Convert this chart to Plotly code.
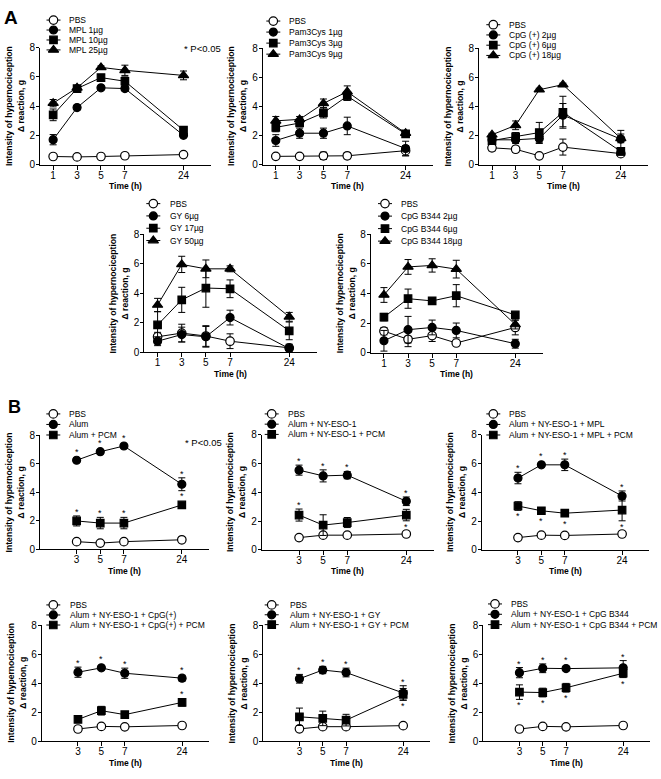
import plotly.graph_objects as go

W, H = 661, 779
FONT = "Liberation Sans, Arial, sans-serif"

TIME_A = [1, 3, 5, 7, 24]
TIME_B = [3, 5, 7, 24]
# segmented time axis of the original: 1-7 h evenly spaced, 24 h placed further out
TIME_POS = {1: 0.0, 3: 1.0, 5: 2.0, 7: 3.0, 24: 5.45}

# ---------------- Panel A ----------------
A1_LABELS = ["PBS", "MPL 1µg", "MPL 10µg", "MPL 25µg"]
A1_MEAN = [[0.55, 0.52, 0.55, 0.60, 0.68],
           [1.70, 3.90, 5.25, 5.20, 2.00],
           [3.40, 5.20, 5.95, 5.70, 2.35],
           [4.20, 5.25, 6.65, 6.45, 6.10]]
A1_ERR = [[0.05, 0.05, 0.05, 0.05, 0.05],
          [0.35, 0.15, 0.10, 0.12, 0.15],
          [0.40, 0.15, 0.20, 0.30, 0.15],
          [0.25, 0.10, 0.10, 0.35, 0.30]]

A2_LABELS = ["PBS", "Pam3Cys 1µg", "Pam3Cys 3µg", "Pam3Cys 9µg"]
A2_MEAN = [[0.56, 0.56, 0.60, 0.60, 0.95],
           [1.65, 2.15, 2.15, 2.65, 1.10],
           [2.55, 2.85, 3.55, 4.70, 2.10],
           [3.00, 3.10, 4.20, 5.00, 2.15]]
A2_ERR = [[0.05, 0.05, 0.25, 0.20, 0.35],
          [0.40, 0.35, 0.35, 0.60, 0.50],
          [0.30, 0.25, 0.35, 0.30, 0.15],
          [0.30, 0.20, 0.30, 0.40, 0.10]]

A3_LABELS = ["PBS", "CpG (+) 2µg", "CpG (+) 6µg", "CpG (+) 18µg"]
A3_MEAN = [[1.15, 1.05, 0.60, 1.20, 0.75],
           [1.70, 1.70, 1.80, 3.40, 1.75],
           [1.65, 1.90, 2.20, 3.60, 0.90],
           [2.05, 2.70, 5.15, 5.50, 1.80]]
A3_ERR = [[0.20, 0.20, 0.05, 0.55, 0.10],
          [0.15, 0.25, 0.35, 0.80, 0.60],
          [0.20, 0.30, 0.70, 1.10, 0.25],
          [0.10, 0.30, 0.10, 0.10, 0.30]]

A4_LABELS = ["PBS", "GY 6µg", "GY 17µg", "GY 50µg"]
A4_MEAN = [[1.05, 1.30, 1.10, 0.75, 0.30],
           [0.75, 1.20, 1.05, 2.35, 0.25],
           [1.85, 3.55, 4.35, 4.30, 1.45],
           [3.20, 5.95, 5.65, 5.65, 2.40]]
A4_ERR = [[0.30, 0.60, 0.70, 0.50, 0.20],
          [0.30, 0.50, 0.70, 0.50, 0.30],
          [0.90, 0.85, 1.30, 0.60, 0.60],
          [0.45, 0.55, 0.60, 0.20, 0.30]]

A5_LABELS = ["PBS", "CpG B344 2µg", "CpG B344 6µg", "CpG B344 18µg"]
A5_MEAN = [[1.45, 0.90, 1.15, 0.65, 1.70],
           [0.80, 1.55, 1.70, 1.50, 0.60],
           [2.40, 3.65, 3.50, 3.85, 2.55],
           [3.90, 5.80, 5.90, 5.65, 1.90]]
A5_ERR = [[0.25, 0.50, 0.40, 0.10, 0.50],
          [0.70, 0.90, 0.50, 0.50, 0.30],
          [0.25, 0.65, 0.20, 0.75, 0.10],
          [0.50, 0.50, 0.45, 0.60, 0.30]]

# ---------------- Panel B ----------------
B1_LABELS = ["PBS", "Alum", "Alum + PCM"]
B1_MEAN = [[0.55, 0.45, 0.55, 0.68],
           [6.25, 6.85, 7.25, 4.57],
           [2.00, 1.85, 1.85, 3.12]]
B1_ERR = [[0.05, 0.05, 0.05, 0.05],
          [0.15, 0.12, 0.10, 0.45],
          [0.35, 0.40, 0.40, 0.12]]
B1_STARS = [["", "", "", ""], ["+", "+", "+", "+"], ["+", "+", "+", "+"]]

B2_LABELS = ["PBS", "Alum + NY-ESO-1", "Alum + NY-ESO-1 + PCM"]
B2_MEAN = [[0.85, 1.02, 1.02, 1.10],
           [5.55, 5.15, 5.20, 3.38],
           [2.42, 1.72, 1.90, 2.42]]
B2_ERR = [[0.05, 0.05, 0.05, 0.05],
          [0.35, 0.42, 0.25, 0.30],
          [0.42, 0.72, 0.35, 0.40]]
B2_STARS = [["", "", "", ""], ["+", "+", "+", "+"], ["+", "", "", "-"]]

B3_LABELS = ["PBS", "Alum + NY-ESO-1 + MPL", "Alum + NY-ESO-1 + MPL + PCM"]
B3_MEAN = [[0.85, 1.02, 1.00, 1.10],
           [5.00, 5.92, 5.92, 3.75],
           [3.05, 2.72, 2.55, 2.77]]
B3_ERR = [[0.05, 0.05, 0.05, 0.05],
          [0.40, 0.10, 0.40, 0.35],
          [0.30, 0.20, 0.10, 0.75]]
B3_STARS = [["", "", "", ""], ["+", "+", "+", "+"], ["-", "-", "-", "-"]]

B4_LABELS = ["PBS", "Alum + NY-ESO-1 + CpG(+)", "Alum + NY-ESO-1 + CpG(+) + PCM"]
B4_MEAN = [[0.84, 1.02, 0.99, 1.08],
           [4.75, 5.05, 4.68, 4.34],
           [1.50, 2.10, 1.83, 2.67]]
B4_ERR = [[0.05, 0.05, 0.05, 0.05],
          [0.35, 0.15, 0.35, 0.20],
          [0.10, 0.30, 0.10, 0.25]]
B4_STARS = [["", "", "", ""], ["+", "+", "+", "+"], ["", "", "", "+"]]

B5_LABELS = ["PBS", "Alum + NY-ESO-1 + GY", "Alum + NY-ESO-1 + GY + PCM"]
B5_MEAN = [[0.85, 1.00, 1.00, 1.07],
           [4.30, 4.90, 4.73, 3.32],
           [1.68, 1.57, 1.45, 3.23]]
B5_ERR = [[0.05, 0.05, 0.05, 0.05],
          [0.30, 0.25, 0.30, 0.50],
          [0.60, 0.50, 0.40, 0.40]]
B5_STARS = [["", "", "", ""], ["+", "+", "+", "+"], ["", "", "", "-"]]

B6_LABELS = ["PBS", "Alum + NY-ESO-1 + CpG B344", "Alum + NY-ESO-1 + CpG B344 + PCM"]
B6_MEAN = [[0.84, 1.02, 0.99, 1.08],
           [4.72, 5.02, 5.00, 5.05],
           [3.38, 3.35, 3.68, 4.68]]
B6_ERR = [[0.05, 0.05, 0.05, 0.05],
          [0.35, 0.30, 0.10, 0.50],
          [0.50, 0.30, 0.30, 0.30]]
B6_STARS = [["", "", "", ""], ["+", "+", "+", "+"], ["-", "-", "-", "-"]]

Y_TICKS = [0, 2, 4, 6, 8]
Y_TITLE_1 = "Intensity of hypernociception"
Y_TITLE_2 = "Δ reaction, g"
X_TITLE = "Time (h)"

# marker style per series position (PBS open circle, then circle, square, triangle)
STYLES = [dict(symbol="circle", color="white", size=8.5),
          dict(symbol="circle", color="black", size=8),
          dict(symbol="square", color="black", size=7.5),
          dict(symbol="triangle-up", color="black", size=9)]

# layout boxes (px): left, right, top(y=8), bottom(y=0); legend: key x, text x, first row y, row step
PANELS = [
    dict(t=TIME_A, lab=A1_LABELS, m=A1_MEAN, e=A1_ERR, s=None, box=(40, 211, 42.3, 161), leg=(53.5, 66.7, 14.3, 10.1)),
    dict(t=TIME_A, lab=A2_LABELS, m=A2_MEAN, e=A2_ERR, s=None, box=(262.7, 433, 42.7, 161), leg=(273.3, 286.7, 15.3, 11.2)),
    dict(t=TIME_A, lab=A3_LABELS, m=A3_MEAN, e=A3_ERR, s=None, box=(479, 648, 43, 161), leg=(493.3, 507.3, 19, 10.4)),
    dict(t=TIME_A, lab=A4_LABELS, m=A4_MEAN, e=A4_ERR, s=None, box=(144.3, 317, 231.7, 351.7), leg=(153.3, 168.3, 200.7, 12.5)),
    dict(t=TIME_A, lab=A5_LABELS, m=A5_MEAN, e=A5_ERR, s=None, box=(370.7, 543, 232, 352), leg=(385, 399.3, 200.7, 12.7)),
    dict(t=TIME_B, lab=B1_LABELS, m=B1_MEAN, e=B1_ERR, s=B1_STARS, box=(40, 209, 436, 552), leg=(53.3, 66.7, 414.3, 10.7)),
    dict(t=TIME_B, lab=B2_LABELS, m=B2_MEAN, e=B2_ERR, s=B2_STARS, box=(261.7, 434, 435.7, 552.3), leg=(271.7, 285.7, 414.3, 10.4)),
    dict(t=TIME_B, lab=B3_LABELS, m=B3_MEAN, e=B3_ERR, s=B3_STARS, box=(481.7, 649, 435.7, 552.3), leg=(493.3, 507.3, 414.3, 10.7)),
    dict(t=TIME_B, lab=B4_LABELS, m=B4_MEAN, e=B4_ERR, s=B4_STARS, box=(41.7, 209, 628.7, 746.7), leg=(53.3, 68.3, 608.3, 10.2)),
    dict(t=TIME_B, lab=B5_LABELS, m=B5_MEAN, e=B5_ERR, s=B5_STARS, box=(263.3, 430, 628.7, 746.7), leg=(271.7, 288.3, 608.3, 10.0)),
    dict(t=TIME_B, lab=B6_LABELS, m=B6_MEAN, e=B6_ERR, s=B6_STARS, box=(483.3, 650, 628.7, 746.7), leg=(495, 509, 607.3, 10.5)),
]

X_RANGE = [-0.55, 6.6]

fig = go.Figure()
layout = dict(width=W, height=H, margin=dict(l=0, r=0, t=0, b=0),
              paper_bgcolor="white", plot_bgcolor="rgba(0,0,0,0)", showlegend=False,
              font=dict(family=FONT, color="black"))
annotations = []

KEY = len(PANELS) + 1  # overlay axis for the legend keys
kx, ky = f"x{KEY}", f"y{KEY}"
layout[f"xaxis{KEY}"] = dict(domain=[0, 1], range=[0, W], visible=False, fixedrange=True, anchor=ky)
layout[f"yaxis{KEY}"] = dict(domain=[0, 1], range=[H, 0], visible=False, fixedrange=True, anchor=kx)

for i, p in enumerate(PANELS, start=1):
    xn = "x" if i == 1 else f"x{i}"
    yn = "y" if i == 1 else f"y{i}"
    xk = "xaxis" if i == 1 else f"xaxis{i}"
    yk = "yaxis" if i == 1 else f"yaxis{i}"
    l, r, t, b = p["box"]
    ppu = (b - t) / 8.0
    pos = [TIME_POS[v] for v in p["t"]]
    layout[xk] = dict(domain=[l / W, r / W], range=X_RANGE, anchor=yn,
                      tickvals=pos, ticktext=[str(v) for v in p["t"]],
                      showline=True, linecolor="black", linewidth=1,
                      ticks="outside", ticklen=4, tickwidth=1, tickcolor="black",
                      ticklabelstandoff=-3,
                      showgrid=False, zeroline=False, fixedrange=True,
                      tickfont=dict(size=10, family=FONT, color="black"))
    layout[yk] = dict(domain=[1 - b / H, 1 - t / H], range=[0, 8], anchor=xn,
                      tickvals=Y_TICKS, ticktext=[str(v) for v in Y_TICKS],
                      showline=True, linecolor="black", linewidth=1,
                      ticks="outside", ticklen=3, tickwidth=1, tickcolor="black",
                      ticklabelstandoff=-1,
                      showgrid=False, zeroline=False, fixedrange=True,
                      tickfont=dict(size=10, family=FONT, color="black"))
    for j, (name, mean, err) in enumerate(zip(p["lab"], p["m"], p["e"])):
        st = STYLES[j]
        fig.add_trace(go.Scatter(
            x=pos, y=mean, name=name, mode="lines+markers", xaxis=xn, yaxis=yn,
            line=dict(color="black", width=1), cliponaxis=False,
            marker=dict(symbol=st["symbol"], size=st["size"], color=st["color"],
                        line=dict(color="black", width=1.2)),
            error_y=dict(type="data", array=err, visible=True, color="black",
                         thickness=1, width=3.5)))
        if p["s"] is not None:
            for k, flag in enumerate(p["s"][j]):
                if not flag:
                    continue
                extra = max(0.0, 4.5 - err[k] * ppu)
                if flag == "+":
                    annotations.append(dict(x=pos[k], y=mean[k] + err[k], xref=xn, yref=yn,
                                            text="*", showarrow=False, yanchor="bottom",
                                            yshift=extra - 3, font=dict(size=9, family=FONT)))
                else:
                    annotations.append(dict(x=pos[k], y=mean[k] - err[k], xref=xn, yref=yn,
                                            text="*", showarrow=False, yanchor="top",
                                            yshift=-extra + 1, font=dict(size=9, family=FONT)))
        # legend key
        cx, tx, y0, dy = p["leg"]
        ry = y0 + j * dy
        fig.add_trace(go.Scatter(x=[cx - 7, cx + 7], y=[ry, ry], mode="lines", xaxis=kx, yaxis=ky,
                                 line=dict(color="black", width=1), hoverinfo="skip"))
        fig.add_trace(go.Scatter(x=[cx], y=[ry], mode="markers", xaxis=kx, yaxis=ky, hoverinfo="skip",
                                 marker=dict(symbol=st["symbol"], size=st["size"], color=st["color"],
                                             line=dict(color="black", width=1.2))))
        annotations.append(dict(x=tx / W, y=1 - ry / H, xref="paper", yref="paper", text=name,
                                showarrow=False, xanchor="left", yanchor="middle",
                                font=dict(size=8.5, family=FONT)))
    # axis titles
    mid = (t + b) / 2
    annotations.append(dict(x=(l - 31) / W, y=1 - mid / H, xref="paper", yref="paper", text=Y_TITLE_1,
                            textangle=-90, showarrow=False, xanchor="center", yanchor="middle",
                            font=dict(size=8.6, family=FONT, weight="bold")))
    annotations.append(dict(x=(l - 19) / W, y=1 - mid / H, xref="paper", yref="paper", text=Y_TITLE_2,
                            textangle=-90, showarrow=False, xanchor="center", yanchor="middle",
                            font=dict(size=8.6, family=FONT, weight="bold")))
    annotations.append(dict(x=(l + r) / 2 / W, y=1 - (b + 22) / H, xref="paper", yref="paper", text=X_TITLE,
                            showarrow=False, xanchor="center", yanchor="middle",
                            font=dict(size=8.5, family=FONT, weight="bold")))

# panel letters and significance notes
annotations.append(dict(x=10.5 / W, y=1 - 11.5 / H, xref="paper", yref="paper", text="A", showarrow=False,
                        xanchor="center", yanchor="middle", font=dict(size=19, family=FONT, weight="bold")))
annotations.append(dict(x=14.5 / W, y=1 - 407.5 / H, xref="paper", yref="paper", text="B", showarrow=False,
                        xanchor="center", yanchor="middle", font=dict(size=18, family=FONT, weight="bold")))
annotations.append(dict(x=182 / W, y=1 - 43.3 / H, xref="paper", yref="paper", text="* P<0.05", showarrow=False,
                        xanchor="left", yanchor="middle", font=dict(size=9.5, family=FONT)))
annotations.append(dict(x=182.7 / W, y=1 - 443.3 / H, xref="paper", yref="paper", text="* P<0.05", showarrow=False,
                        xanchor="left", yanchor="middle", font=dict(size=9.5, family=FONT)))

layout["annotations"] = annotations
fig.update_layout(**layout)
fig.write_html("out.html", config={"responsive": False, "displayModeBar": False},
               post_script="document.body.style.margin='0px';document.body.style.overflow='hidden';")
